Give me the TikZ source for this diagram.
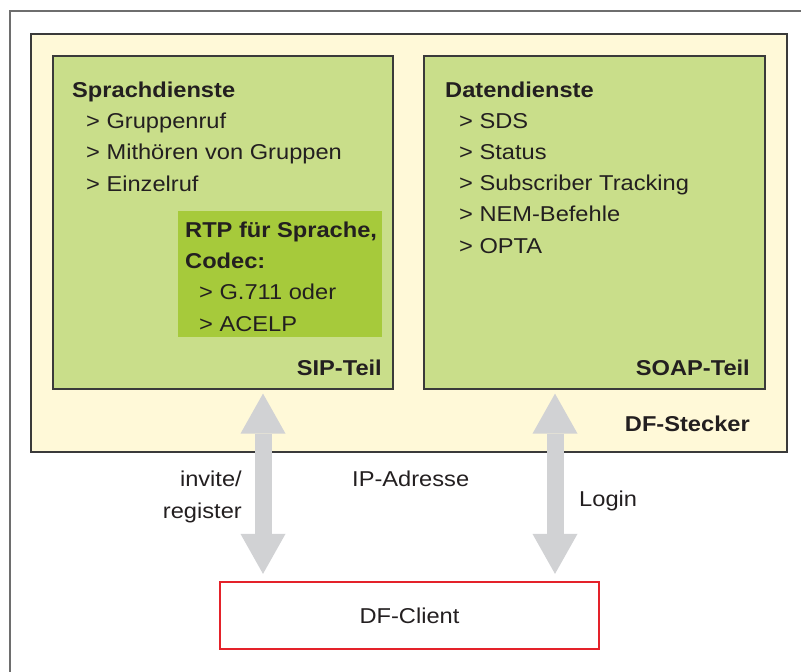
\documentclass[tikz,border=0pt]{standalone}
\usepackage{fontspec}
\setmainfont{Liberation Sans}[FakeStretch=1.1]
\usetikzlibrary{arrows.meta}

\definecolor{frameGray}{HTML}{6E6E6E}
\definecolor{steckerFill}{HTML}{FFF9D8}
\definecolor{partFill}{HTML}{C9DE8A}
\definecolor{rtpFill}{HTML}{A6CA3B}
\definecolor{boxLine}{HTML}{3A3A3A}
\definecolor{flowGray}{HTML}{D1D2D4}
\definecolor{clientRed}{HTML}{E4222A}
\definecolor{ink}{HTML}{231F20}

% indented list entry
\newcommand\listentry[1]{\hspace*{14pt}>\ #1}

\begin{document}
\begin{tikzpicture}[x=1pt, y=-1pt,
  every node/.style={text=ink, font=\fontsize{21.5pt}{31.1pt}\selectfont},
  panel/.style={draw=boxLine, line width=1.2pt, inner sep=0pt},
  txt/.style={inner sep=0pt, align=left},
  flow/.style={draw=flowGray, line width=17pt,
    arrows={Triangle[length=40pt,width=45pt,line width=0pt]-Triangle[length=40pt,width=45pt,line width=0pt]}}
]
\useasboundingbox (0,0) rectangle (801,672);

% surrounding frame
\draw[frameGray, line width=2pt] (10,690) -- (10,11) -- (820,11);

% DF-Stecker
\node[panel, fill=steckerFill, minimum width=756pt, minimum height=418pt] (stecker) at (409,243) {};
% SIP and SOAP parts
\node[panel, fill=partFill, minimum width=340pt, minimum height=333pt] (sip) at (223,222.5) {};
\node[panel, fill=partFill, minimum width=341pt, minimum height=333pt] (soap) at (594.5,222.5) {};
% RTP area
\node[fill=rtpFill, inner sep=0pt, minimum width=204pt, minimum height=126pt] (rtp) at (280,274) {};

% client
\node[draw=clientRed, line width=2.2pt, fill=white, minimum width=379pt, minimum height=67pt] (client) at (409.5,615.5) {DF-Client};

% texts (multi-line nodes are anchored at the baseline of their last line)
\node[txt, anchor=base west] (sprach) at (72,191) {\textbf{Sprachdienste}\\
  \listentry{Gruppenruf}\\
  \listentry{Mithören von Gruppen}\\
  \listentry{Einzelruf}};
\node[txt, anchor=base west] (daten) at (445,253) {\textbf{Datendienste}\\
  \listentry{SDS}\\
  \listentry{Status}\\
  \listentry{Subscriber Tracking}\\
  \listentry{NEM-Befehle}\\
  \listentry{OPTA}};
\node[txt, anchor=base west] (rtptext) at (185,331) {\textbf{RTP für Sprache,}\\
  \textbf{Codec:}\\
  \listentry{G.711 oder}\\
  \listentry{ACELP}};

\node[txt, anchor=base east] (siplabel) at (382,375.5) {\textbf{SIP-Teil}};
\node[txt, anchor=base east] (soaplabel) at (750,375.5) {\textbf{SOAP-Teil}};
\node[txt, anchor=base east] (stlabel) at (750,431) {\textbf{DF-Stecker}};

% connectors
\draw[flow, shorten <=4pt, shorten >=7pt] (263,0 |- sip.south) -- (263,0 |- client.north);
\draw[flow, shorten <=4pt, shorten >=7pt] (555,0 |- soap.south) -- (555,0 |- client.north);

\node[txt, align=right, anchor=base east] (invite) at (242,518) {invite/\\register};
\node[txt, anchor=base west] (ip) at (352,486) {IP-Adresse};
\node[txt, anchor=base west] (login) at (579,506) {Login};
\end{tikzpicture}
\end{document}
